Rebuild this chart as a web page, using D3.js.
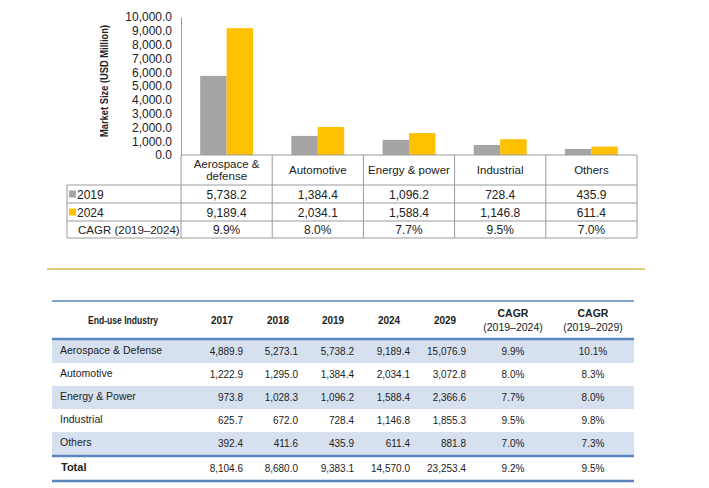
<!DOCTYPE html>
<html>
<head>
<meta charset="utf-8">
<script src="https://cdn.jsdelivr.net/npm/d3@7"></script>
<style>
  html, body { margin: 0; padding: 0; background: #fff; }
  svg { display: block; }
  text { font-family: "Liberation Sans", Arial, sans-serif; fill: #222; }
</style>
</head>
<body>
<svg id="chart" width="709" height="488"></svg>
<script>
// ---------- Data ----------
const categories = ["Aerospace & defense", "Automotive", "Energy & power", "Industrial", "Others"];
const categoryLines = [["Aerospace &", "defense"], ["Automotive"], ["Energy & power"], ["Industrial"], ["Others"]];
const seriesNames = ["2019", "2024"];
const values2019 = [5738.2, 1384.4, 1096.2, 728.4, 435.9];
const values2024 = [9189.4, 2034.1, 1588.4, 1146.8, 611.4];
const cagrTop = ["9.9%", "8.0%", "7.7%", "9.5%", "7.0%"];
const yTicks = [0, 1000, 2000, 3000, 4000, 5000, 6000, 7000, 8000, 9000, 10000];

const tableHeaders = ["End-use Industry", "2017", "2018", "2019", "2024", "2029", "CAGR\n(2019\u20132024)", "CAGR\n(2019\u20132029)"];
const industries = ["Aerospace & Defense", "Automotive", "Energy & Power", "Industrial", "Others"];
const v2017 = ["4,889.9", "1,222.9", "973.8", "625.7", "392.4"];
const v2018 = ["5,273.1", "1,295.0", "1,028.3", "672.0", "411.6"];
const v2019 = ["5,738.2", "1,384.4", "1,096.2", "728.4", "435.9"];
const v2024 = ["9,189.4", "2,034.1", "1,588.4", "1,146.8", "611.4"];
const v2029 = ["15,076.9", "3,072.8", "2,366.6", "1,855.3", "881.8"];
const cagr1924 = ["9.9%", "8.0%", "7.7%", "9.5%", "7.0%"];
const cagr1929 = ["10.1%", "8.3%", "8.0%", "9.8%", "7.3%"];
const totalRow = ["Total", "8,104.6", "8,680.0", "9,383.1", "14,570.0", "23,253.4", "9.2%", "9.5%"];

// ---------- Colors ----------
const colors = { "2019": "#a5a5a5", "2024": "#ffc000" };
const gridColor = "#9a9a9a";

const svg = d3.select("#chart");

// ---------- Top chart ----------
const x0 = d3.scaleBand().domain(categories).range([181, 637]).paddingInner(0.42).paddingOuter(0.21);
const x1 = d3.scaleBand().domain(seriesNames).range([0, x0.bandwidth()]);
const y = d3.scaleLinear().domain([0, 10000]).range([155, 17]);

const yAxis = d3.axisLeft(y).tickValues(yTicks).tickFormat(d3.format(",.1f")).tickSize(0).tickPadding(9);
const gy = svg.append("g").attr("transform", "translate(181,0)").call(yAxis);
gy.select(".domain").attr("stroke", gridColor);
gy.selectAll("text").style("font-size", "12px").style("font-family", "'Liberation Sans', Arial, sans-serif").attr("fill", "#222");

svg.append("text")
  .attr("transform", "translate(108,81) rotate(-90)")
  .attr("text-anchor", "middle")
  .attr("textLength", 112).attr("lengthAdjust", "spacingAndGlyphs")
  .style("font-size", "10.5px").style("font-weight", "bold")
  .text("Market Size (USD Million)");

const series = [values2019, values2024];
const groups = svg.append("g").selectAll("g").data(categories).join("g")
  .attr("transform", d => `translate(${x0(d)},0)`);
groups.selectAll("rect").data((d, i) => seriesNames.map((s, j) => ({ s, v: series[j][i] }))).join("rect")
  .attr("x", d => x1(d.s))
  .attr("width", x1.bandwidth())
  .attr("y", d => y(d.v))
  .attr("height", d => y(0) - y(d.v))
  .attr("fill", d => colors[d.s]);

// ---------- Data table under chart ----------
const step = x0.step();
const off = (step - x0.bandwidth()) / 2;
const cellLeft = c => x0(c) - off;
const rowsY = [155, 185, 203, 221, 238];
const tableLeft = 67, tableRight = 637;
const tg = svg.append("g");
const line = (xa, ya, xb, yb, col, w) => tg.append("line").attr("x1", xa).attr("y1", ya).attr("x2", xb).attr("y2", yb).attr("stroke", col).attr("stroke-width", w || 1);

line(181, 155, tableRight, 155, gridColor);
for (let r = 1; r < rowsY.length; r++) line(tableLeft, rowsY[r], tableRight, rowsY[r], gridColor);
line(tableLeft, rowsY[1], tableLeft, rowsY[4], gridColor);
line(181, 155, 181, rowsY[4], gridColor);
categories.forEach(c => line(cellLeft(c) + step, 155, cellLeft(c) + step, rowsY[4], gridColor));

// header labels
categories.forEach((c, i) => {
  const lines = categoryLines[i];
  const cx = cellLeft(c) + step / 2;
  const cy = (rowsY[0] + rowsY[1]) / 2;
  const t = tg.append("text").attr("text-anchor", "middle").style("font-size", "11.5px");
  lines.forEach((l, k) => {
    t.append("tspan").attr("x", cx).attr("y", cy + (k - (lines.length - 1) / 2) * 12.5 + 4).text(l);
  });
});

const rowData = [values2019.map(d3.format(",.1f")), values2024.map(d3.format(",.1f")), cagrTop];
rowData.forEach((vals, r) => {
  const cy = (rowsY[r + 1] + rowsY[r + 2]) / 2 + 4.5;
  categories.forEach((c, i) => {
    tg.append("text").attr("x", cellLeft(c) + step / 2).attr("y", cy).attr("text-anchor", "middle")
      .style("font-size", "12px").text(vals[i]);
  });
});
// row labels with legend keys
seriesNames.forEach((s, r) => {
  const cy = (rowsY[r + 1] + rowsY[r + 2]) / 2;
  tg.append("rect").attr("x", 69).attr("y", cy - 3.5).attr("width", 7).attr("height", 7).attr("fill", colors[s]);
  tg.append("text").attr("x", 77).attr("y", cy + 4.5).style("font-size", "12px").text(s);
});
tg.append("text").attr("x", 78).attr("y", (rowsY[3] + rowsY[4]) / 2 + 4.5).style("font-size", "11.5px").text("CAGR (2019\u20132024)");

// ---------- Separator ----------
svg.append("line").attr("x1", 47).attr("x2", 645).attr("y1", 269).attr("y2", 269).attr("stroke", "#cdb944").attr("stroke-width", 1.5);

// ---------- Bottom table ----------
const bl = 52, br = 634;
const blue = "#5a84be";
const shade = "#d7e0ef";
const rowTop = [340, 363, 386, 409, 432];
const rowH = 23;
const bt = svg.append("g");
const fmtCols = [v2017, v2018, v2019, v2024, v2029];
const numRight = [243, 298, 354, 410, 466];
const headCenter = [123, 222, 278, 333, 389, 445, 513, 593];
const cagrCenter = [513, 593];

industries.forEach((ind, i) => {
  if (i % 2 === 0) bt.append("rect").attr("x", bl).attr("y", rowTop[i]).attr("width", br - bl).attr("height", rowH).attr("fill", shade);
});
bt.append("line").attr("x1", bl).attr("x2", br).attr("y1", 301).attr("y2", 301).attr("stroke", blue).attr("stroke-width", 1.5);
bt.append("line").attr("x1", bl).attr("x2", br).attr("y1", 339).attr("y2", 339).attr("stroke", blue).attr("stroke-width", 2.5);
bt.append("line").attr("x1", bl).attr("x2", br).attr("y1", 456).attr("y2", 456).attr("stroke", blue).attr("stroke-width", 2.5);
bt.append("line").attr("x1", bl).attr("x2", br).attr("y1", 481).attr("y2", 481).attr("stroke", blue).attr("stroke-width", 2.5);

// headers
tableHeaders.forEach((h, i) => {
  const parts = h.split("\n");
  const t = bt.append("text").attr("text-anchor", "middle").style("font-size", "10px").style("font-weight", "bold").attr("fill", "#333");
  if (i === 0) t.style("font-size", "10.5px").attr("textLength", 70).attr("lengthAdjust", "spacingAndGlyphs");
  parts.forEach((p, k) => {
    const ts = t.append("tspan").attr("x", headCenter[i]).attr("y", 324 + (k - (parts.length - 1) / 2) * 14).text(p);
    if (i >= 6) ts.style("font-weight", k === 0 ? "bold" : "normal").style("font-size", "10.5px");
  });
});

industries.forEach((ind, i) => {
  const cy = rowTop[i] + rowH / 2 + 3.5;
  bt.append("text").attr("x", 60).attr("y", cy - 1).style("font-size", "10.5px").attr("fill", "#333").text(ind);
  fmtCols.forEach((col, c) => {
    bt.append("text").attr("x", numRight[c]).attr("y", cy).attr("text-anchor", "end").style("font-size", "10px").attr("fill", "#333").text(col[i]);
  });
  [cagr1924, cagr1929].forEach((col, c) => {
    bt.append("text").attr("x", cagrCenter[c]).attr("y", cy).attr("text-anchor", "middle").style("font-size", "10px").attr("fill", "#333").text(col[i]);
  });
});
// total
{
  const cy = 468 + 3.5;
  bt.append("text").attr("x", 61).attr("y", cy - 1).style("font-size", "11px").style("font-weight", "bold").attr("fill", "#222").text(totalRow[0]);
  for (let c = 1; c <= 5; c++) {
    bt.append("text").attr("x", numRight[c - 1]).attr("y", cy).attr("text-anchor", "end").style("font-size", "10px").attr("fill", "#111").text(totalRow[c]);
  }
  for (let c = 6; c <= 7; c++) {
    bt.append("text").attr("x", cagrCenter[c - 6]).attr("y", cy).attr("text-anchor", "middle").style("font-size", "10px").attr("fill", "#111").text(totalRow[c]);
  }
}
</script>
</body>
</html>
